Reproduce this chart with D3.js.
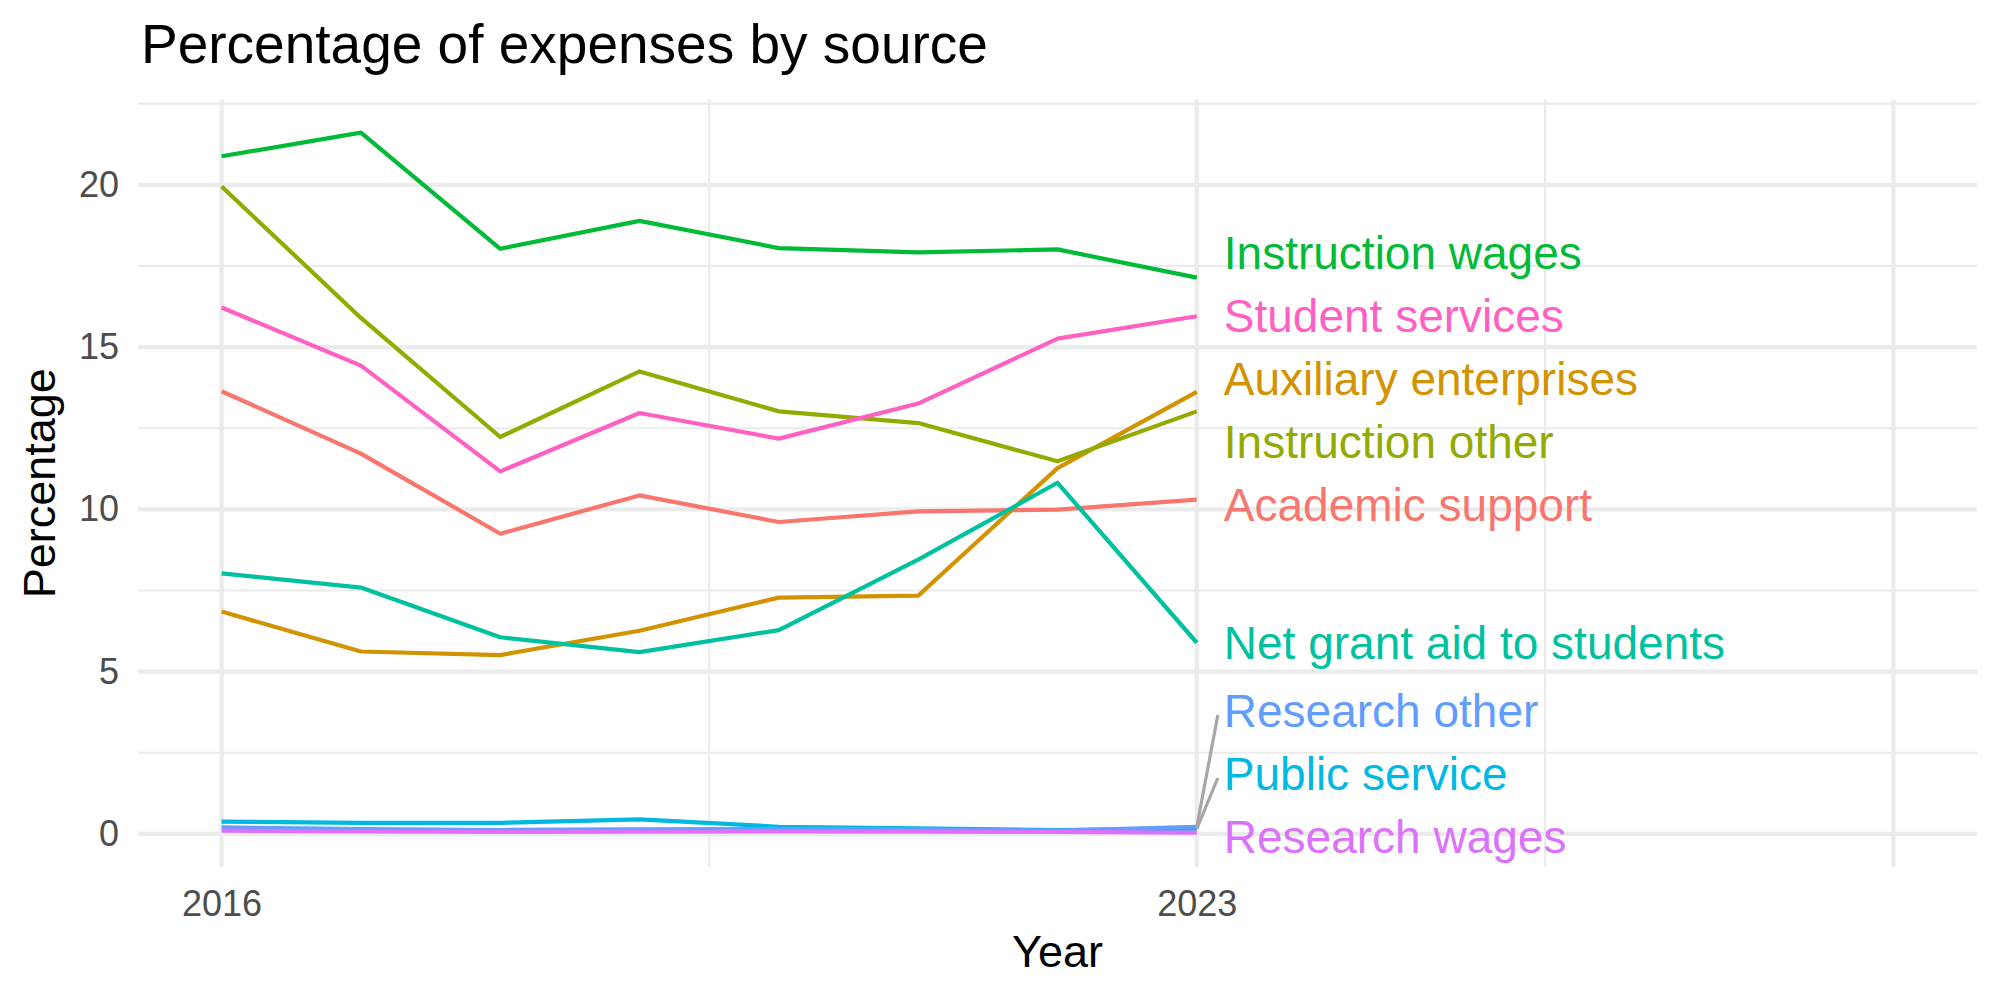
<!DOCTYPE html>
<html>
<head>
<meta charset="utf-8">
<script src="https://cdn.jsdelivr.net/npm/d3@7"></script>
<style>
  body { margin: 0; background: #fff; }
  svg { font-family: "Liberation Sans", Arial, sans-serif; }
</style>
</head>
<body>
<div id="chart"></div>
<script>
// ---------- data ----------
const years = [2016, 2017, 2018, 2019, 2020, 2021, 2022, 2023];

const academicSupport      = [13.64, 11.72, 9.25, 10.43, 9.61, 9.94, 9.99, 10.30];
const auxiliaryEnterprises = [6.85, 5.62, 5.51, 6.26, 7.28, 7.34, 11.27, 13.62];
const instructionOther     = [19.95, 15.90, 12.23, 14.25, 13.02, 12.66, 11.48, 13.02];
const instructionWages     = [20.88, 21.61, 18.03, 18.89, 18.05, 17.92, 18.01, 17.14];
const netGrantAid          = [8.03, 7.59, 6.06, 5.60, 6.28, 8.45, 10.82, 5.89];
const publicService        = [0.38, 0.34, 0.34, 0.45, 0.22, 0.17, 0.12, 0.16];
const researchOther        = [0.20, 0.15, 0.12, 0.14, 0.15, 0.13, 0.10, 0.22];
const researchWages        = [0.10, 0.08, 0.06, 0.07, 0.08, 0.07, 0.06, 0.04];
const studentServices      = [16.22, 14.43, 11.17, 12.97, 12.18, 13.26, 15.26, 15.95];

// category names in the order ggplot draws them (alphabetical)
const categories = ["Academic support", "Auxiliary enterprises", "Instruction other",
  "Instruction wages", "Net grant aid to students", "Public service",
  "Research other", "Research wages", "Student services"];
const seriesValues = [academicSupport, auxiliaryEnterprises, instructionOther,
  instructionWages, netGrantAid, publicService, researchOther, researchWages, studentServices];

const xTickLabels = [2016, 2023];
const xMajorGrid = [2016, 2023, 2028];
const xMinorGrid = [2019.5, 2025.5];
const yTickLabels = [0, 5, 10, 15, 20];
const yMinorGrid = [2.5, 7.5, 12.5, 17.5, 22.5];

// ---------- specs ----------
let width = 2000, height = 1000;
let panelLeft = 138, panelRight = 1977, panelTop = 99.5, panelBottom = 867;

let svg = d3.select("#chart").append("svg")
  .attr("width", width)
  .attr("height", height);

// hue palette like ggplot's default
let color = d3.scaleOrdinal()
  .domain(categories)
  .range(["#F8766D", "#D39200", "#93AA00", "#00BA38", "#00C19F", "#00B9E3", "#619CFF", "#DB72FB", "#FF61C3"]);

let xScale = d3.scaleLinear()
  .domain([2015.4, 2028.6])
  .range([panelLeft, panelRight]);

let yScale = d3.scaleLinear()
  .domain([-1.02, 22.63])
  .range([panelBottom, panelTop]);

// ---------- grid ----------
let grid = svg.append("g").attr("id", "grid");

grid.selectAll(".yminor").data(yMinorGrid).enter().append("line")
  .attr("x1", panelLeft).attr("x2", panelRight)
  .attr("y1", d => yScale(d)).attr("y2", d => yScale(d))
  .style("stroke", "#EBEBEB").style("stroke-width", 2.2);

grid.selectAll(".xminor").data(xMinorGrid).enter().append("line")
  .attr("y1", panelTop).attr("y2", panelBottom)
  .attr("x1", d => xScale(d)).attr("x2", d => xScale(d))
  .style("stroke", "#EBEBEB").style("stroke-width", 2.2);

grid.selectAll(".ymajor").data(yTickLabels).enter().append("line")
  .attr("x1", panelLeft).attr("x2", panelRight)
  .attr("y1", d => yScale(d)).attr("y2", d => yScale(d))
  .style("stroke", "#EBEBEB").style("stroke-width", 4.2);

grid.selectAll(".xmajor").data(xMajorGrid).enter().append("line")
  .attr("y1", panelTop).attr("y2", panelBottom)
  .attr("x1", d => xScale(d)).attr("x2", d => xScale(d))
  .style("stroke", "#EBEBEB").style("stroke-width", 4.2);

// ---------- lines ----------
let line = d3.line()
  .x((d, i) => xScale(years[i]))
  .y(d => yScale(d));

svg.append("g").attr("id", "lines")
  .selectAll("path").data(categories).enter().append("path")
  .attr("d", (c, i) => line(seriesValues[i]))
  .style("fill", "none")
  .style("stroke", c => color(c))
  .style("stroke-width", 4.2)
  .style("stroke-linejoin", "round");

// ---------- end labels (simple repel in y) ----------
let last = years.length - 1;
let labels = categories.map((c, i) => ({
  name: c,
  py: yScale(seriesValues[i][last]),
  y: yScale(seriesValues[i][last])
}));
labels.sort((a, b) => a.py - b.py);

let gap = 63, lo = panelTop + 30, hi = panelBottom - 30;
for (let it = 0; it < 600; it++) {
  for (let k = 1; k < labels.length; k++) {
    let d = labels[k].y - labels[k - 1].y;
    if (d < gap) {
      let s = (gap - d) / 2;
      labels[k - 1].y -= s;
      labels[k].y += s;
    }
  }
  labels.forEach(l => { l.y = Math.max(lo, Math.min(hi, l.y)); });
}

let labelX = xScale(years[last]) + 27;

// connector segments for labels pushed far from their line end
svg.append("g").attr("id", "segments")
  .selectAll("line").data(labels.filter(l => Math.abs(l.y - l.py) > 45)).enter().append("line")
  .attr("x1", xScale(years[last])).attr("y1", d => d.py)
  .attr("x2", labelX - 6).attr("y2", d => d.y + 4)
  .style("stroke", "#A6A6A6").style("stroke-width", 3.2);

svg.append("g").attr("id", "labels")
  .selectAll("text").data(labels).enter().append("text")
  .attr("x", labelX)
  .attr("y", d => d.y)
  .attr("dy", "0.35em")
  .style("font-size", "46px")
  .style("fill", d => color(d.name))
  .text(d => d.name);

// ---------- axes ----------
let x_ax = svg.append("g").attr("transform", `translate(0,${panelBottom})`);
let y_ax = svg.append("g").attr("transform", `translate(${panelLeft},0)`);

x_ax.call(d3.axisBottom(xScale).tickValues(xTickLabels).tickFormat(d3.format("d")).tickSize(0).tickPadding(23));
y_ax.call(d3.axisLeft(yScale).tickValues(yTickLabels).tickSize(0).tickPadding(19));

[x_ax, y_ax].forEach(ax => {
  ax.select(".domain").remove();
  ax.selectAll("text")
    .style("font-size", "36px")
    .style("font-family", "'Liberation Sans', Arial, sans-serif")
    .style("fill", "#4D4D4D");
});

// ---------- titles ----------
svg.append("text")
  .attr("x", 141).attr("y", 63)
  .style("font-size", "55px")
  .style("fill", "#000")
  .text("Percentage of expenses by source");

svg.append("text")
  .attr("x", (panelLeft + panelRight) / 2).attr("y", 967)
  .attr("text-anchor", "middle")
  .style("font-size", "45px")
  .text("Year");

svg.append("text")
  .attr("transform", `translate(55,${(panelTop + panelBottom) / 2}) rotate(-90)`)
  .attr("text-anchor", "middle")
  .style("font-size", "45px")
  .text("Percentage");
</script>
</body>
</html>
